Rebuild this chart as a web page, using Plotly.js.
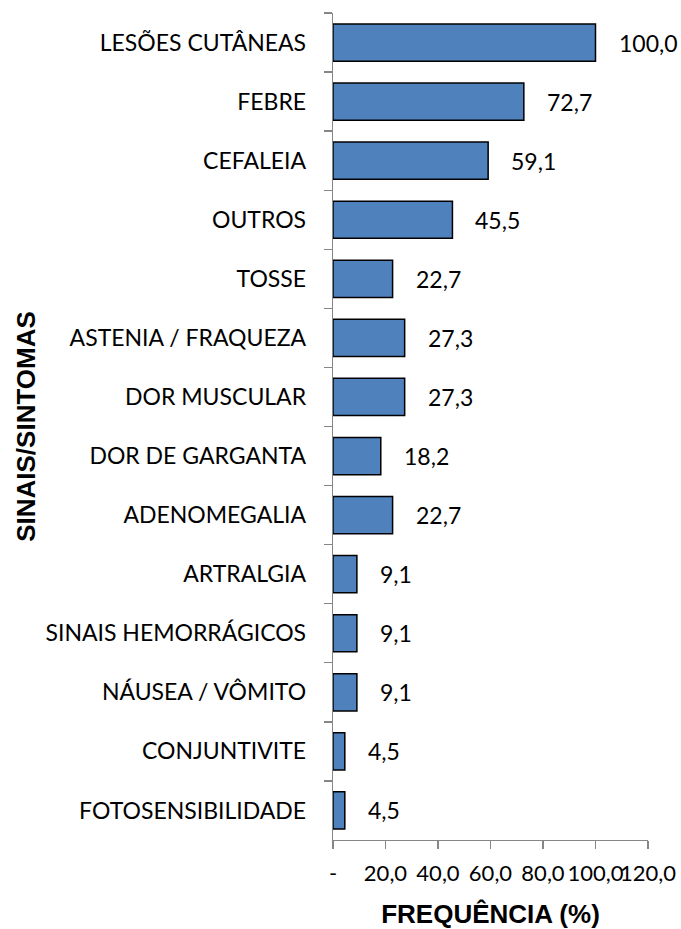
<!DOCTYPE html>
<html>
<head>
<meta charset="utf-8">
<script src="https://cdn.plot.ly/plotly-3.0.1.min.js"></script>
<style>html,body{margin:0;padding:0;background:#fff;}#chart{width:681px;height:929px;}</style>
</head>
<body>
<div id="chart"></div>
<script>
const categories = ["LESÕES CUTÂNEAS","FEBRE","CEFALEIA","OUTROS","TOSSE","ASTENIA / FRAQUEZA","DOR MUSCULAR","DOR DE GARGANTA","ADENOMEGALIA","ARTRALGIA","SINAIS HEMORRÁGICOS","NÁUSEA / VÔMITO","CONJUNTIVITE","FOTOSENSIBILIDADE"];
const values = [100.0,72.7,59.1,45.5,22.7,27.3,27.3,18.2,22.7,9.1,9.1,9.1,4.5,4.5];
const xTickVals = [0,20,40,60,80,100,120];
const xTickText = ["-","20,0","40,0","60,0","80,0","100,0","120,0"];

const fmt = v => v.toFixed(1).replace('.', ',');
const labelFont = {family:"Lato, 'Open Sans', sans-serif", size:23, color:"#000"};
const xTickFont = {family:"Lato, 'Open Sans', sans-serif", size:22, color:"#000"};
const titleFont = {family:"Arial, 'Liberation Sans', sans-serif", size:26, color:'#000', weight:'bold'};

const trace = {
  type:'bar', orientation:'h',
  x: values, y: categories,
  marker:{color:'#4F81BD', line:{color:'#000', width:1.5}},
  hoverinfo:'none'
};

const annotations = values.map((v,i)=>({
  x:v, y:categories[i], xref:'x', yref:'y',
  text:fmt(v), showarrow:false, xanchor:'left', yanchor:'middle',
  xshift:21, yshift:0, font:labelFont
}));

const layout = {
  width:681, height:929,
  margin:{l:333, r:33, t:13, b:89},
  paper_bgcolor:'#fff', plot_bgcolor:'#fff',
  showlegend:false,
  bargap:0.37,
  xaxis:{
    range:[0,120], tickvals:xTickVals, ticktext:xTickText, tickangle:0,
    ticks:'outside', ticklen:8, tickcolor:'#868686', tickwidth:1.3,
    showline:true, linecolor:'#868686', linewidth:1.3,
    showgrid:false, zeroline:false,
    tickfont:xTickFont, ticklabelstandoff:5,
    title:{text:'FREQUÊNCIA (%)', font:titleFont, standoff:22}
  },
  yaxis:{
    type:'category', autorange:'reversed',
    ticks:'outside', ticklen:8, tickcolor:'#868686', tickwidth:1.3, tickson:'boundaries',
    showline:true, linecolor:'#868686', linewidth:1.3,
    showgrid:false, zeroline:false,
    tickfont:labelFont, ticklabelstandoff:21,
    title:{text:'SINAIS/SINTOMAS', font:titleFont, standoff:2}
  },
  annotations: annotations
};

Plotly.newPlot('chart',[trace],layout,{displayModeBar:false,staticPlot:true});
</script>
</body>
</html>
